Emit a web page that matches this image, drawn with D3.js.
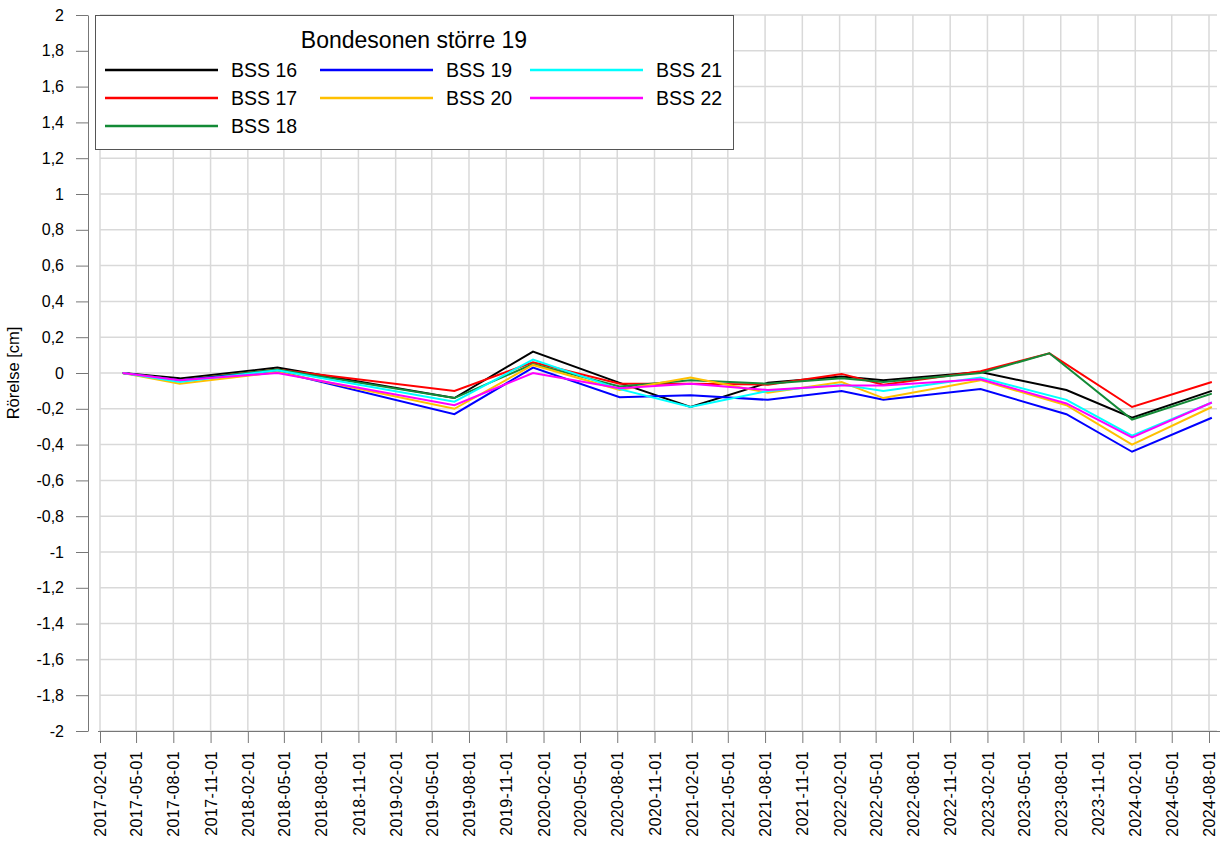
<!DOCTYPE html>
<html>
<head>
<meta charset="utf-8">
<title>Bondesonen större 19</title>
<script src="https://cdnjs.cloudflare.com/ajax/libs/d3/7.8.5/d3.min.js"></script>
<style>
  body { margin: 0; background: #fff; }
  svg { font-family: Arial, "Liberation Sans", sans-serif; }
</style>
</head>
<body>
<svg id="chart" width="1220" height="843"></svg>
<script>
// measurement dates (BSS 17 and 18 were measured earlier in summer 2023)
const datesMain = ['2017-03-29','2017-08-17','2018-04-15','2019-06-26','2020-01-06','2020-08-07','2021-01-29',
  '2021-08-08','2022-02-06','2022-05-20','2023-01-15','2023-08-15','2024-01-24','2024-08-08']
const datesEarly = ['2017-03-29','2017-08-17','2018-04-15','2019-06-26','2020-01-06','2020-08-07','2021-01-29',
  '2021-08-08','2022-02-06','2022-05-20','2023-01-15','2023-07-04','2024-01-24','2024-08-08']

const bss16 = [0, -0.03, 0.03, -0.14, 0.12, -0.055, -0.19, -0.055, -0.02, -0.04, 0.005, -0.095, -0.25, -0.10]
const bss17 = [0, -0.04, 0.02, -0.10, 0.06, -0.06, -0.06, -0.065, -0.005, -0.065, 0.01, 0.11, -0.19, -0.05]
const bss18 = [0, -0.04, 0.02, -0.14, 0.05, -0.075, -0.04, -0.06, -0.03, -0.05, 0.0, 0.11, -0.26, -0.115]
const bss19 = [0, -0.04, 0.01, -0.23, 0.03, -0.135, -0.125, -0.15, -0.10, -0.15, -0.09, -0.23, -0.44, -0.25]
const bss20 = [0, -0.06, 0.005, -0.20, 0.045, -0.095, -0.025, -0.11, -0.05, -0.14, -0.04, -0.18, -0.40, -0.19]
const bss21 = [0, -0.05, 0.015, -0.16, 0.075, -0.09, -0.19, -0.10, -0.065, -0.10, -0.025, -0.15, -0.35, -0.165]
const bss22 = [0, -0.04, 0.0, -0.18, 0.0, -0.085, -0.06, -0.095, -0.07, -0.07, -0.035, -0.17, -0.36, -0.165]

const seriesNames = ['BSS 16', 'BSS 17', 'BSS 18', 'BSS 19', 'BSS 20', 'BSS 21', 'BSS 22']
const seriesColors = ['#000000', '#ff0000', '#138a36', '#0000ff', '#ffc000', '#00ffff', '#ff00ff']

const xTickLabels = ['2017-02-01','2017-05-01','2017-08-01','2017-11-01','2018-02-01','2018-05-01','2018-08-01',
  '2018-11-01','2019-02-01','2019-05-01','2019-08-01','2019-11-01','2020-02-01','2020-05-01','2020-08-01',
  '2020-11-01','2021-02-01','2021-05-01','2021-08-01','2021-11-01','2022-02-01','2022-05-01','2022-08-01',
  '2022-11-01','2023-02-01','2023-05-01','2023-08-01','2023-11-01','2024-02-01','2024-05-01','2024-08-01']
const yTicks = [2, 1.8, 1.6, 1.4, 1.2, 1, 0.8, 0.6, 0.4, 0.2, 0, -0.2, -0.4, -0.6, -0.8, -1, -1.2, -1.4, -1.6, -1.8, -2]

const title = 'Bondesonen större 19'
const yTitle = 'Rörelse [cm]'

const parse = d3.utcParse('%Y-%m-%d')
const series = [
  {values: bss16, dates: datesMain},
  {values: bss17, dates: datesEarly},
  {values: bss18, dates: datesEarly},
  {values: bss19, dates: datesMain},
  {values: bss20, dates: datesMain},
  {values: bss21, dates: datesMain},
  {values: bss22, dates: datesMain}
].map((s, i) => ({
  name: seriesNames[i],
  color: seriesColors[i],
  points: s.values.map((v, j) => ({date: parse(s.dates[j]), value: v}))
}))

const svg = d3.select('#chart')
const plotLeft = 100, plotRight = 1217, plotTop = 15, plotBottom = 731
const font = 'Arial, "Liberation Sans", sans-serif'

const x = d3.scaleUtc()
  .domain([parse(xTickLabels[0]), parse(xTickLabels[xTickLabels.length - 1])])
  .range([100, 1209])
const y = d3.scaleLinear().domain([-2, 2]).range([plotBottom, plotTop])

const fmt = d => String(d).replace('.', ',')

// grid
svg.append('g')
  .selectAll('line')
  .data(yTicks)
  .join('line')
  .attr('x1', plotLeft).attr('x2', plotRight)
  .attr('y1', d => y(d)).attr('y2', d => y(d))
  .attr('stroke', '#d9d9d9').attr('stroke-width', 1.5)
svg.append('g')
  .selectAll('line')
  .data(xTickLabels)
  .join('line')
  .attr('x1', d => x(parse(d))).attr('x2', d => x(parse(d)))
  .attr('y1', plotTop).attr('y2', plotBottom)
  .attr('stroke', '#d9d9d9').attr('stroke-width', 1.5)

// y axis
const yAxis = svg.append('g')
  .attr('transform', 'translate(88,0)')
  .call(d3.axisLeft(y).tickValues(yTicks).tickFormat(fmt).tickSize(12).tickPadding(12).tickSizeOuter(0))
yAxis.select('.domain').attr('stroke', '#777')
yAxis.selectAll('.tick line').attr('stroke', '#777')
yAxis.selectAll('.tick text').attr('font-size', 16).attr('fill', '#000').attr('font-family', font)

// x axis
const xAxis = svg.append('g')
  .attr('transform', `translate(0,${plotBottom})`)
  .call(d3.axisBottom(x).tickValues(xTickLabels.map(parse)).tickFormat(d3.utcFormat('%Y-%m-%d'))
    .tickSize(12).tickSizeOuter(0))
xAxis.select('.domain').attr('stroke', '#777').attr('d', `M98,0.5H1220`)
xAxis.selectAll('.tick line').attr('stroke', '#777')
xAxis.selectAll('.tick text')
  .attr('font-size', 16).attr('fill', '#000').attr('font-family', font)
  .attr('letter-spacing', 0.4)
  .attr('transform', 'rotate(-90)')
  .attr('text-anchor', 'end')
  .attr('x', -20).attr('y', 0).attr('dy', '0.35em')

// y title
svg.append('text')
  .attr('transform', `translate(19,${y(0)}) rotate(-90)`)
  .attr('text-anchor', 'middle')
  .attr('font-size', 16.5)
  .text(yTitle)

// lines
const line = d3.line().x(d => x(d.date)).y(d => y(d.value))
svg.append('g')
  .selectAll('path')
  .data(series)
  .join('path')
  .attr('d', d => line(d.points))
  .attr('fill', 'none')
  .attr('stroke', d => d.color)
  .attr('stroke-width', 2)
  .attr('stroke-linejoin', 'miter')

// legend
const legend = svg.append('g')
legend.append('rect')
  .attr('x', 95.5).attr('y', 15.5).attr('width', 638).attr('height', 134)
  .attr('fill', '#fff').attr('stroke', '#555')
legend.append('text')
  .attr('x', 414).attr('y', 48)
  .attr('text-anchor', 'middle')
  .attr('font-size', 23)
  .text(title)
const colX = [105, 320, 530]
const rowY = [70, 98, 126]
const entries = legend.selectAll('.entry')
  .data(series)
  .join('g')
  .attr('class', 'entry')
  .attr('transform', (d, i) => {
    const col = i < 3 ? 0 : i < 5 ? 1 : 2
    const row = i < 3 ? i : i < 5 ? i - 3 : i - 5
    return `translate(${colX[col]},${rowY[row]})`
  })
entries.append('line')
  .attr('x1', 0).attr('x2', 113)
  .attr('stroke', d => d.color).attr('stroke-width', 2.5)
entries.append('text')
  .attr('x', 126).attr('dy', '0.36em')
  .attr('font-size', 19.5)
  .text(d => d.name)
</script>
</body>
</html>
